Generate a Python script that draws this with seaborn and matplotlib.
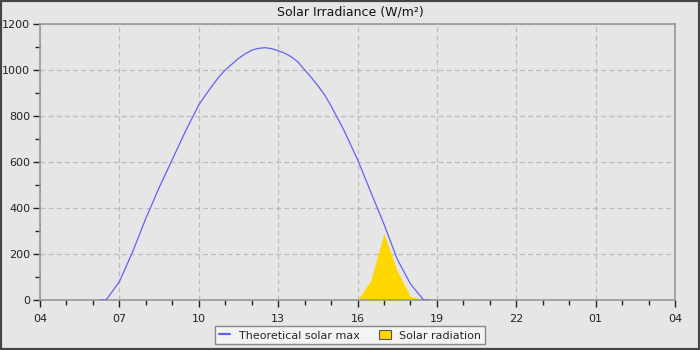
import matplotlib
matplotlib.use("Agg")
import matplotlib.pyplot as plt
import seaborn as sns
import pandas as pd
from matplotlib.lines import Line2D
from matplotlib.patches import Patch, Rectangle
from matplotlib.ticker import MultipleLocator, FixedLocator

# ---- data ----
theory_hours = [6.25, 6.5, 7.0, 7.5, 8.0, 8.5, 9.0, 9.5, 10.0, 10.25, 10.5, 10.75,
                11.0, 11.25, 11.5, 11.75, 12.0, 12.25, 12.5, 12.75, 13.0, 13.25,
                13.5, 13.75, 14.0, 14.25, 14.5, 14.75, 15.0, 15.25, 15.5, 16.0,
                16.5, 17.0, 17.5, 18.0, 18.5, 18.75]
theory_vals = [0, 0, 80, 209, 355, 488, 611, 734, 848, 890, 930, 968,
               1000, 1025, 1050, 1070, 1086, 1094, 1097, 1093, 1084, 1073,
               1057, 1035, 1001, 968, 932, 893, 844, 790, 735, 611,
               470, 330, 178, 70, 0, 0]
rad_hours = [16.0, 16.5, 17.0, 17.5, 18.0, 18.3, 18.45]
rad_vals = [0, 85, 290, 127, 14, 8, 0]
tick_hours = [4, 7, 10, 13, 16, 19, 22, 25, 28]
tick_labels = ["04", "07", "10", "13", "16", "19", "22", "01", "04"]

title = "Solar Irradiance (W/m²)"
series_names = ["Theoretical solar max", "Solar radiation"]

BG = "#e6e6e6"
LINE = "#6262f5"
YEL = "#ffd700"
SPINE = "#999999"

sns.set_theme(style="white")
plt.rcParams["font.family"] = ["DejaVu Sans"]

fig = plt.figure(figsize=(7, 3.5), dpi=100, facecolor=BG)
ax = fig.add_axes([40/700, 1-300/350, 635/700, 276/350])
ax.set_facecolor(BG)

df = pd.DataFrame({"hour": theory_hours, "val": theory_vals})
ax.fill_between(rad_hours, rad_vals, 0, color=YEL, linewidth=0, zorder=2)
sns.lineplot(data=df, x="hour", y="val", ax=ax, color=LINE, linewidth=0.9, zorder=3)

ax.set_xlim(4, 28)
ax.set_ylim(0, 1200)
ax.xaxis.set_major_locator(FixedLocator(tick_hours))
ax.set_xticklabels(tick_labels)
ax.xaxis.set_minor_locator(MultipleLocator(1))
ax.yaxis.set_major_locator(MultipleLocator(200))
ax.yaxis.set_minor_locator(MultipleLocator(100))
ax.set_xlabel("")
ax.set_ylabel("")

ax.tick_params(axis="both", which="major", direction="out", length=5, width=1,
               color="#222222", labelsize=8, labelcolor="#222222", pad=2,
               bottom=True, left=True)
ax.tick_params(axis="both", which="minor", direction="out", length=3.5, width=1,
               color="#222222", bottom=True, left=True)
ax.tick_params(axis="x", which="major", pad=5)

ax.grid(True, which="major", color="#bbbbbb", linestyle=(0, (4, 2.5)), linewidth=0.9)
ax.set_axisbelow(True)
for s in ax.spines.values():
    s.set_color(SPINE)
    s.set_linewidth(1.2)
    s.set_visible(True)

fig.text(0.5, 1-12/350, title, ha="center", va="center", fontsize=9, color="#111111")

handles = [Line2D([0], [0], color=LINE, linewidth=1.6),
           Patch(facecolor=YEL, edgecolor="#555555", linewidth=0.8)]
leg = fig.legend(handles, series_names, loc="lower center", bbox_to_anchor=(0.5, 0.0),
                 ncol=2, fontsize=8, frameon=True, fancybox=False,
                 facecolor="#f4f4f4", edgecolor="#888888", framealpha=1,
                 handlelength=1.0, handleheight=0.9, columnspacing=1.8,
                 borderpad=0.35, handletextpad=0.8)
leg.get_frame().set_linewidth(1.0)

fig.patches.append(Rectangle((0, 0), 1, 1, transform=fig.transFigure, fill=False,
                             edgecolor="#444444", linewidth=3, zorder=10))

fig.savefig("out.png", dpi=100, facecolor=BG)
